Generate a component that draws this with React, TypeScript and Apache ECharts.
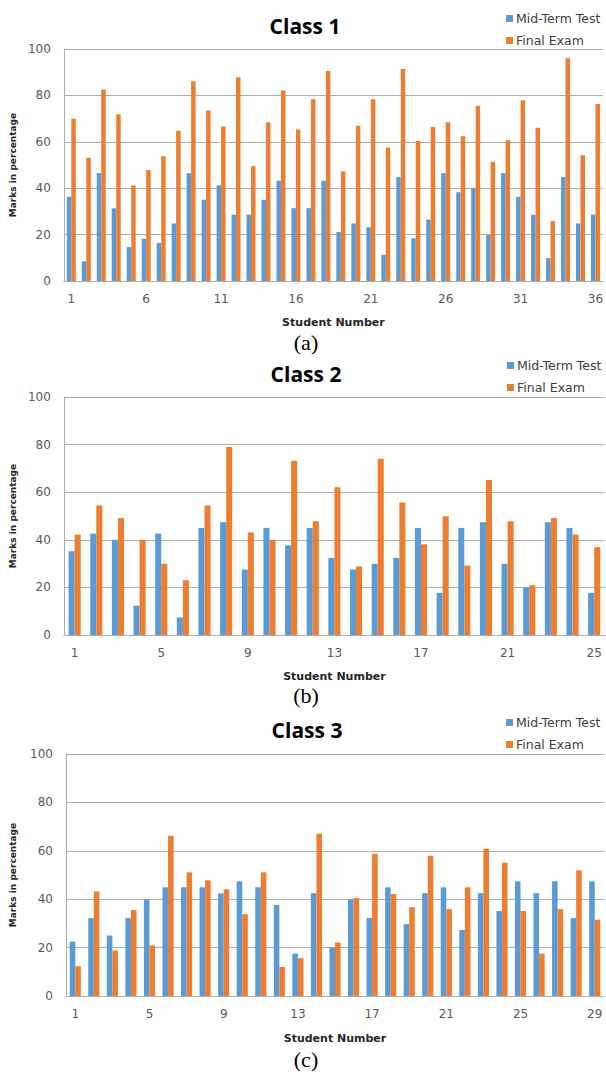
import React, { useEffect, useRef } from "react";
import * as echarts from "echarts";

const class1Students = ["1","2","3","4","5","6","7","8","9","10","11","12","13","14","15","16","17","18","19","20","21","22","23","24","25","26","27","28","29","30","31","32","33","34","35","36"];
const class1Mid = [36.3, 8.5, 46.5, 31.4, 14.6, 18.2, 16.4, 24.8, 46.5, 35.0, 41.2, 28.6, 28.6, 35.0, 43.2, 31.4, 31.4, 43.2, 21.1, 24.8, 23.2, 11.3, 44.8, 18.4, 26.5, 46.5, 38.3, 39.9, 19.8, 46.5, 36.3, 28.6, 9.9, 44.8, 24.8, 28.6];
const class1Final = [69.9, 53.1, 82.5, 71.9, 41.2, 47.8, 53.8, 64.8, 86.1, 73.5, 66.6, 87.8, 49.5, 68.4, 82.1, 65.3, 78.3, 90.5, 47.2, 66.9, 78.3, 57.5, 91.4, 60.3, 66.4, 68.4, 62.4, 75.5, 51.4, 60.7, 77.9, 66.1, 25.8, 96.0, 54.2, 76.3];

const class2Students = ["1","2","3","4","5","6","7","8","9","10","11","12","13","14","15","16","17","18","19","20","21","22","23","24","25"];
const class2Mid = [35.2, 42.6, 40.0, 12.3, 42.6, 7.4, 45.0, 47.4, 27.5, 45.0, 37.7, 45.0, 32.4, 27.5, 29.9, 32.4, 45.0, 17.7, 45.0, 47.4, 29.9, 20.1, 47.4, 45.0, 17.7];
const class2Final = [42.2, 54.4, 49.1, 40.0, 29.9, 23.0, 54.4, 79.0, 43.1, 40.0, 73.2, 47.8, 62.1, 28.8, 74.1, 55.7, 38.1, 49.9, 29.2, 65.1, 47.8, 20.9, 49.1, 42.2, 36.9];

const class3Students = ["1","2","3","4","5","6","7","8","9","10","11","12","13","14","15","16","17","18","19","20","21","22","23","24","25","26","27","28","29"];
const class3Mid = [22.5, 32.2, 25.0, 32.2, 39.9, 44.9, 44.9, 44.9, 42.4, 47.4, 44.9, 37.6, 17.5, 42.5, 19.9, 39.9, 32.2, 44.9, 29.7, 42.5, 44.9, 27.3, 42.5, 35.1, 47.4, 42.5, 47.4, 32.2, 47.4];
const class3Final = [12.3, 43.2, 18.8, 35.5, 20.9, 66.2, 51.1, 47.8, 44.1, 33.8, 51.1, 12.0, 15.6, 67.0, 22.1, 40.5, 58.8, 42.1, 36.7, 58.0, 35.9, 44.9, 60.8, 55.1, 35.1, 17.5, 35.9, 51.9, 31.5];

const seriesNames = ["Mid-Term Test", "Final Exam"];
const yTickMin = 0;
const yTickMax = 100;
const yTickStep = 20;
const titles = ["Class 1", "Class 2", "Class 3"];
const captions = ["(a)", "(b)", "(c)"];
const xAxisTitle = "Student Number";
const yAxisTitle = "Marks in percentage";
const topLineText = "to some of the students.";

const BLUE = "#5B9BD5";
const ORANGE = "#ED7D31";
const GRID_GRAY = "#ADADAD";
const TICK_COLOR = "#595959";

const layouts = [
  { left: 58, top: 49, width: 547, height: 232, labelInterval: 4, barWidth: "30%", titleX: 305, titleY: 26, legendLeft: 501, legendTop: 7, yNameGap: 45, xNameGap: 36, captionX: 306, captionY: 342 },
  { left: 60, top: 397, width: 545, height: 238, labelInterval: 3, barWidth: "28%", titleX: 306, titleY: 374, legendLeft: 502, legendTop: 354, yNameGap: 46, xNameGap: 36, captionX: 306, captionY: 695 },
  { left: 64, top: 754, width: 540, height: 242, labelInterval: 3, barWidth: "30%", titleX: 307, titleY: 730, legendLeft: 501, legendTop: 711, yNameGap: 49, xNameGap: 37, captionX: 306, captionY: 1059 },
];

export default function App() {
  const ref = useRef<HTMLDivElement>(null);
  useEffect(() => {
    const chart = echarts.init(ref.current!, null, { renderer: "svg" });
    const panels = [
      { cats: class1Students, mid: class1Mid, fin: class1Final },
      { cats: class2Students, mid: class2Mid, fin: class2Final },
      { cats: class3Students, mid: class3Mid, fin: class3Final },
    ];
    const grid: any[] = [];
    const xAxis: any[] = [];
    const yAxis: any[] = [];
    const legend: any[] = [];
    const series: any[] = [];
    const graphics: any[] = [];
    panels.forEach((p, i) => {
      const L = layouts[i];
      grid.push({ left: L.left, top: L.top, width: L.width, height: L.height, containLabel: false });
      xAxis.push({
        type: "category",
        gridIndex: i,
        data: p.cats,
        name: xAxisTitle,
        nameLocation: "middle",
        nameGap: L.xNameGap,
        nameTextStyle: { fontFamily: "DejaVu Sans", fontWeight: "bold", fontSize: 11, color: "#262626" },
        axisLine: { show: true, lineStyle: { color: GRID_GRAY, width: 1 } },
        axisTick: { show: false },
        axisLabel: { interval: L.labelInterval, margin: 12, fontFamily: "DejaVu Sans", fontSize: 12, color: TICK_COLOR },
        splitLine: { show: false },
      });
      yAxis.push({
        type: "value",
        gridIndex: i,
        min: yTickMin,
        max: yTickMax,
        interval: yTickStep,
        name: yAxisTitle,
        nameLocation: "middle",
        nameGap: L.yNameGap,
        nameTextStyle: { fontFamily: "DejaVu Sans", fontWeight: "bold", fontSize: 9, color: "#262626" },
        axisLine: { show: true, lineStyle: { color: GRID_GRAY, width: 1 } },
        axisTick: { show: false },
        axisLabel: { margin: 13, fontFamily: "DejaVu Sans", fontSize: 12, color: TICK_COLOR },
        splitLine: { show: true, lineStyle: { color: GRID_GRAY, width: 1 } },
      });
      legend.push({
        orient: "vertical",
        left: L.legendLeft,
        top: L.legendTop,
        itemWidth: 7,
        itemHeight: 7,
        itemGap: 9,
        icon: "rect",
        data: seriesNames,
        textStyle: { fontFamily: "DejaVu Sans", fontSize: 12.5, color: "#404040", padding: [0, 0, 0, -2] },
        selectedMode: false,
      });
      series.push({
        name: seriesNames[0],
        type: "bar",
        xAxisIndex: i,
        yAxisIndex: i,
        data: p.mid,
        barWidth: L.barWidth,
        barGap: "0%",
        itemStyle: { color: BLUE },
      });
      series.push({
        name: seriesNames[1],
        type: "bar",
        xAxisIndex: i,
        yAxisIndex: i,
        data: p.fin,
        barWidth: L.barWidth,
        barGap: "0%",
        itemStyle: { color: ORANGE },
      });
      graphics.push({
        type: "text",
        x: L.titleX,
        y: L.titleY,
        style: { text: titles[i], fontFamily: "Open Sans", fontWeight: "bold", fontSize: 21, fill: "#000", textAlign: "center", textVerticalAlign: "middle" },
      });
      graphics.push({
        type: "text",
        x: L.captionX,
        y: L.captionY,
        style: { text: captions[i], fontFamily: "Liberation Serif", fontSize: 22, fill: "#000", textAlign: "center", textVerticalAlign: "middle" },
      });
    });
    graphics.push({
      type: "text",
      x: 6,
      y: -21,
      style: { text: topLineText, fontFamily: "Liberation Serif", fontSize: 22, fill: "#000", textAlign: "left", textVerticalAlign: "top" },
    });
    chart.setOption({
      animation: false,
      backgroundColor: "#fff",
      grid,
      xAxis,
      yAxis,
      legend,
      series,
      graphic: graphics,
    });
    return () => chart.dispose();
  }, []);
  return <div ref={ref} style={{ position: "absolute", left: 0, top: 0, width: 606, height: 1075 }} />;
}
